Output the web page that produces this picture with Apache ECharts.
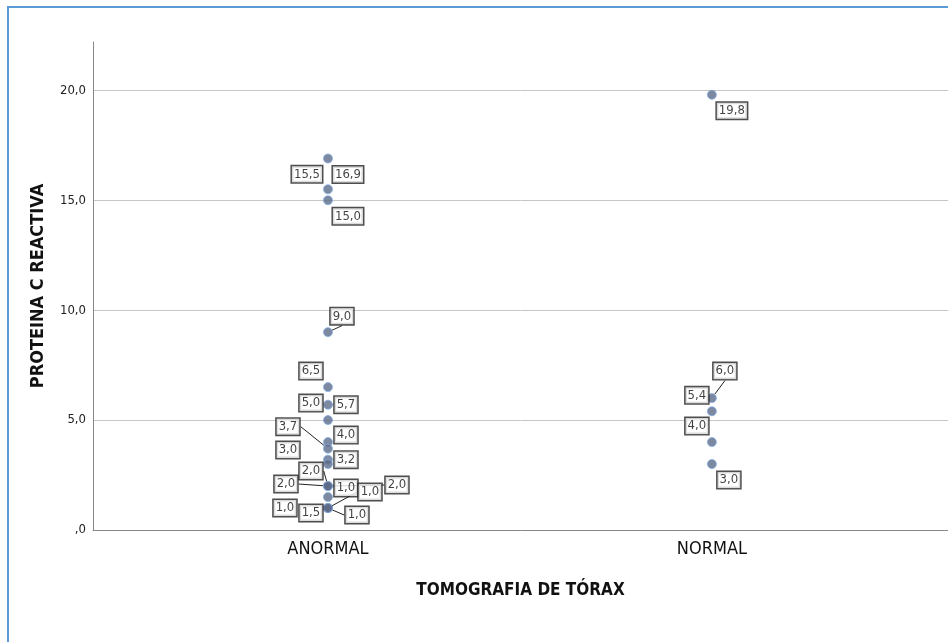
<!DOCTYPE html>
<html>
<head>
<meta charset="utf-8">
<script src="https://cdn.jsdelivr.net/npm/echarts@6/dist/echarts.min.js"></script>
<style>
  html, body { margin: 0; padding: 0; background: #fff; }
  #chart { width: 948px; height: 642px; }
</style>
</head>
<body>
<div id="chart"></div>
<script>
// categorias del eje X
var categories = ['ANORMAL', 'NORMAL'];

// valores de PCR por grupo
var anormalValues = [16.9, 15.5, 15.0, 9.0, 6.5, 5.7, 5.0, 4.0, 3.7, 3.2, 3.0, 2.0, 2.0, 2.0, 1.5, 1.0, 1.0, 1.0, 1.0];
var normalValues = [19.8, 6.0, 5.4, 4.0, 3.0];

// ticks del eje Y
var yTicks = [0, 5, 10, 15, 20];

// desplazamiento de cada etiqueta (px) respecto a su punto
var anormalLabelShift = [
  [20, 16], [-21, -15], [20, 16], [14, -16], [-17, -16], [18, 0], [-17, -17],
  [18, -7], [-40, -22], [18, 0], [-40, -14], [-17, -15], [-42, -2], [69, -1],
  [-17, 16], [18, -20], [42, -16], [29, 7], [-43, 0]
];
var normalLabelShift = [[20, 16], [13, -27], [-15, -16], [-15, -16], [17, 16]];

// etiquetas con linea guia
var anormalLeader = [0, 0, 0, 1, 0, 1, 0, 0, 1, 0, 0, 1, 1, 1, 0, 0, 1, 1, 0];
var normalLeader = [0, 1, 0, 0, 0];

function fmt(v) {
  if (v === 0) return ',0';
  return v.toFixed(1).replace('.', ',');
}

function toPoints(catIndex, values, leader) {
  var out = [];
  for (var i = 0; i < values.length; i++) {
    out.push({
      value: [catIndex, values[i]],
      labelLine: { show: !!leader[i] }
    });
  }
  return out;
}

var myChart = echarts.init(document.getElementById('chart'));

var font = 'DejaVu Sans Condensed, Liberation Sans, sans-serif';

var labelStyle = {
  show: true,
  position: 'inside',
  formatter: function (p) { return fmt(p.value[1]); },
  color: '#111',
  fontSize: 13,
  fontFamily: font,
  backgroundColor: '#fff',
  borderColor: '#222',
  borderWidth: 1.5,
  padding: [2, 2, 1, 2]
};

var dotStyle = {
  color: '#5d6b88',
  borderColor: '#86aee6',
  borderWidth: 1
};

var frameColor = '#5b9bd5';

option = {
  animation: false,
  backgroundColor: '#fff',
  graphic: [
    {
      type: 'line',
      shape: { x1: 8, y1: 6, x2: 8, y2: 642 },
      style: { stroke: frameColor, lineWidth: 2 },
      silent: true
    },
    {
      type: 'line',
      shape: { x1: 7, y1: 7, x2: 948, y2: 7 },
      style: { stroke: frameColor, lineWidth: 2 },
      silent: true
    }
  ],
  grid: { left: 93, right: 0, top: 42, bottom: 112 },
  xAxis: {
    type: 'value',
    min: -0.612,
    max: 1.615,
    axisLine: { show: true, onZero: false, lineStyle: { color: '#888', width: 1 } },
    axisTick: { show: false },
    splitLine: { show: false },
    axisLabel: {
      customValues: [0, 1],
      formatter: function (v) { return categories[Math.round(v)]; },
      color: '#111',
      fontSize: 18,
      fontFamily: font,
      margin: 10
    },
    name: 'TOMOGRAFIA DE TÓRAX',
    nameLocation: 'middle',
    nameGap: 52,
    nameTextStyle: {
      color: '#111',
      fontSize: 17,
      fontWeight: 'bold',
      fontFamily: font
    }
  },
  yAxis: {
    type: 'value',
    min: 0,
    max: 22.2,
    interval: 5,
    axisLine: { show: true, onZero: false, lineStyle: { color: '#888', width: 1 } },
    axisTick: { show: false },
    splitLine: { show: true, showMaxLine: false, lineStyle: { color: '#c6c6c6', width: 1 } },
    axisLabel: {
      customValues: yTicks,
      formatter: fmt,
      color: '#222',
      fontSize: 13,
      fontFamily: font,
      margin: 7
    },
    name: 'PROTEINA C REACTIVA',
    nameLocation: 'middle',
    nameGap: 46,
    nameTextStyle: {
      color: '#111',
      fontSize: 18,
      fontWeight: 'bold',
      fontFamily: font
    }
  },
  series: [
    {
      type: 'scatter',
      symbolSize: 9,
      itemStyle: dotStyle,
      label: labelStyle,
      labelLine: { show: true, lineStyle: { color: '#222', width: 1 } },
      labelLayout: function (p) {
        var s = anormalLabelShift[p.dataIndex];
        return { dx: s[0], dy: s[1] };
      },
      data: toPoints(0, anormalValues, anormalLeader)
    },
    {
      type: 'scatter',
      symbolSize: 9,
      itemStyle: dotStyle,
      label: labelStyle,
      labelLine: { show: true, lineStyle: { color: '#222', width: 1 } },
      labelLayout: function (p) {
        var s = normalLabelShift[p.dataIndex];
        return { dx: s[0], dy: s[1] };
      },
      data: toPoints(1, normalValues, normalLeader)
    }
  ]
};

myChart.setOption(option);
</script>
</body>
</html>
